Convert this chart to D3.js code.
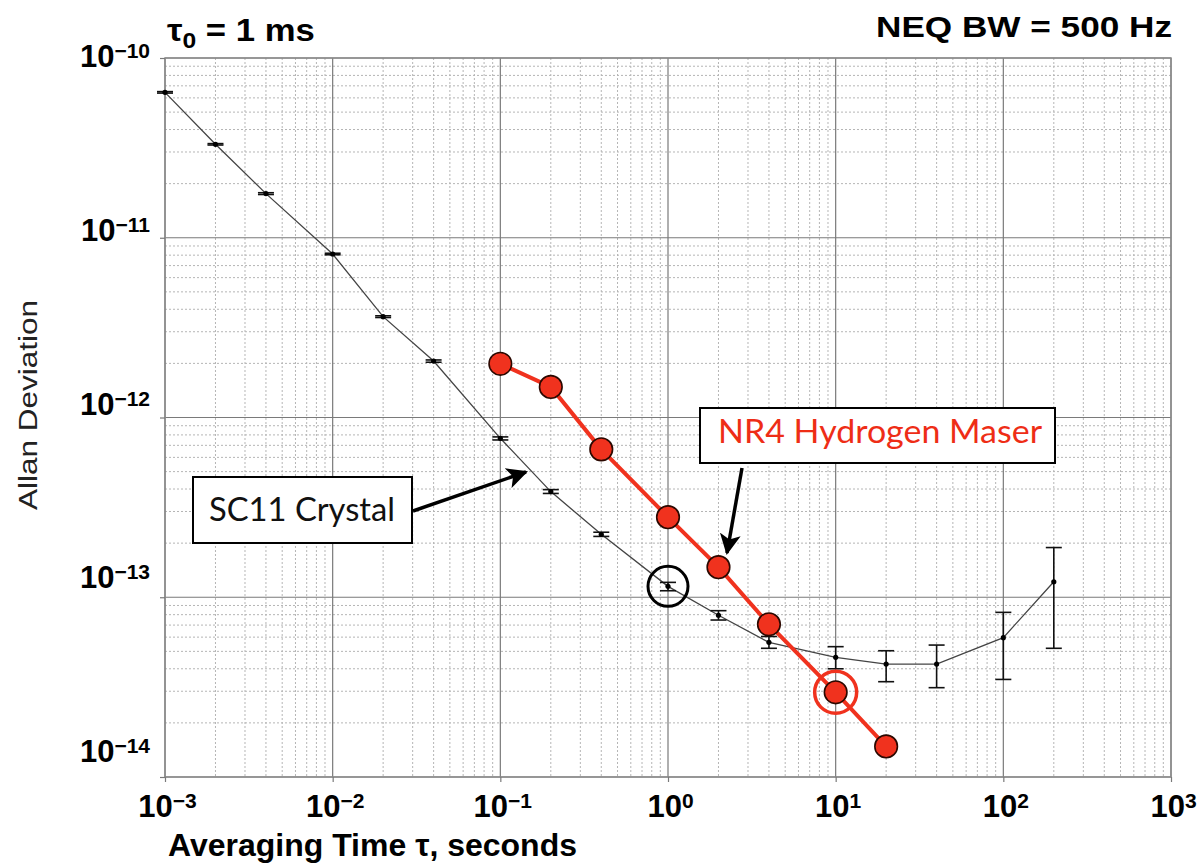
<!DOCTYPE html>
<html><head><meta charset="utf-8">
<script src="https://cdn.jsdelivr.net/npm/d3@7"></script>
<style>
html,body{margin:0;padding:0;background:#fff;}
svg{display:block;}
</style></head>
<body>
<script>
// ---------- data ----------
const xTickExps = [-3,-2,-1,0,1,2,3];
const yTickExps = [-10,-11,-12,-13,-14];

const tauCrystal  = [0.001,0.002,0.004,0.01,0.02,0.04,0.1,0.2,0.4,1,2,4,10,20,40,100,200];
const adevCrystal = [6.44e-11,3.31e-11,1.76e-11,8.12e-12,3.64e-12,2.06e-12,7.66e-13,3.87e-13,2.24e-13,1.15e-13,7.94e-14,5.61e-14,4.63e-14,4.25e-14,4.25e-14,5.96e-14,1.22e-13];
const errLoCrystal = [6.38e-11,3.28e-11,1.74e-11,8.04e-12,3.60e-12,2.03e-12,7.50e-13,3.78e-13,2.18e-13,1.087e-13,7.47e-14,5.20e-14,4.00e-14,3.39e-14,3.14e-14,3.49e-14,5.20e-14];
const errHiCrystal = [6.50e-11,3.34e-11,1.78e-11,8.20e-12,3.68e-12,2.09e-12,7.80e-13,3.97e-13,2.30e-13,1.21e-13,8.42e-14,6.05e-14,5.31e-14,5.04e-14,5.42e-14,8.24e-14,1.89e-13];

const tauMaser  = [0.1,0.2,0.4,1,2,4,10,20];
const adevMaser = [1.99e-12,1.48e-12,6.65e-13,2.79e-13,1.47e-13,7.07e-14,2.96e-14,1.48e-14];

const crystalLabel = "SC11 Crystal";
const maserLabel = "NR4 Hydrogen Maser";

// ---------- setup ----------
const W = 1203, H = 868;
const RED = "#f0321e";
const svg = d3.select("body").append("svg").attr("width", W).attr("height", H)
  .style("font-family", "'Liberation Sans', Arial, sans-serif");

const x = d3.scaleLog().domain([1e-3, 1e3]).range([165, 1171]);
const y = d3.scaleLog().domain([1e-10, 1e-14]).range([58, 777]);
// label placement scale (tick labels in the original drift slightly from gridlines)
const yLab = d3.scaleLog().domain([1e-10, 1e-14]).range([67, 762]);

// ---------- grid ----------
const minorX = [], minorY = [];
for (let e = -3; e < 3; e++) for (let k = 2; k <= 9; k++) minorX.push(k * Math.pow(10, e));
for (let e = -14; e < -10; e++) for (let k = 2; k <= 9; k++) minorY.push(k * Math.pow(10, e));

const grid = svg.append("g");
grid.selectAll(".mx").data(minorX).join("line")
  .attr("x1", d => x(d)).attr("x2", d => x(d)).attr("y1", y.range()[0]).attr("y2", y.range()[1])
  .attr("stroke", "#b5b5b5").attr("stroke-width", 1).attr("stroke-dasharray", "2,2");
grid.selectAll(".my").data(minorY).join("line")
  .attr("y1", d => y(d)).attr("y2", d => y(d)).attr("x1", x.range()[0]).attr("x2", x.range()[1])
  .attr("stroke", "#b5b5b5").attr("stroke-width", 1).attr("stroke-dasharray", "2,2");
grid.selectAll(".Mx").data(xTickExps).join("line")
  .attr("x1", d => x(Math.pow(10, d))).attr("x2", d => x(Math.pow(10, d)))
  .attr("y1", y.range()[0]).attr("y2", y.range()[1])
  .attr("stroke", "#7a7a7a").attr("stroke-width", 1.2);
grid.selectAll(".My").data(yTickExps).join("line")
  .attr("y1", d => y(Math.pow(10, d))).attr("y2", d => y(Math.pow(10, d)))
  .attr("x1", x.range()[0]).attr("x2", x.range()[1])
  .attr("stroke", "#7a7a7a").attr("stroke-width", 1.2);

svg.append("rect").attr("x", x.range()[0]).attr("y", y.range()[0])
  .attr("width", x.range()[1] - x.range()[0]).attr("height", y.range()[1] - y.range()[0])
  .attr("fill", "none").attr("stroke", "#8a8a8a").attr("stroke-width", 1.5);

// ---------- axes ----------
const xAxis = d3.axisBottom(x).tickValues(xTickExps.map(e => Math.pow(10, e)))
  .tickSize(5).tickFormat(() => "");
const gx = svg.append("g").attr("transform", `translate(0,${y.range()[1]})`).call(xAxis);
gx.select(".domain").remove();
gx.selectAll(".tick line").attr("stroke", "#7a7a7a").attr("stroke-width", 1.2);
gx.selectAll(".tick").each(function(d) {
  const e = Math.round(Math.log10(d));
  const t = d3.select(this).append("text").attr("x", 2).attr("y", 40)
    .attr("text-anchor", "middle").attr("fill", "#000")
    .style("font-weight", "bold").style("font-size", "31px");
  t.append("tspan").text("10");
  t.append("tspan").attr("dy", -9).style("font-size", "21px")
    .text(e < 0 ? "\u2212" + Math.abs(e) : String(e));
});

const yAxis = d3.axisLeft(y).tickValues(yTickExps.map(e => Math.pow(10, e)))
  .tickSize(5).tickFormat(() => "");
const gy = svg.append("g").attr("transform", `translate(${x.range()[0]},0)`).call(yAxis);
gy.select(".domain").remove();
gy.selectAll(".tick line").attr("stroke", "#7a7a7a").attr("stroke-width", 1.2);

svg.append("g").selectAll("text").data(yTickExps).join("text")
  .attr("x", 150).attr("y", d => yLab(Math.pow(10, d)))
  .attr("text-anchor", "end").attr("fill", "#000")
  .style("font-weight", "bold").style("font-size", "31px")
  .each(function(d) {
    const t = d3.select(this);
    t.append("tspan").text("10");
    t.append("tspan").attr("dy", -9).style("font-size", "21px").text("\u2212" + Math.abs(d));
  });

// axis titles
svg.append("text").attr("x", 168).attr("y", 856)
  .attr("textLength", 409).attr("lengthAdjust", "spacingAndGlyphs")
  .style("font-weight", "bold").style("font-size", "31px").attr("fill", "#000")
  .text("Averaging Time \u03c4, seconds");

svg.append("text").attr("transform", "translate(37,405) rotate(-90)")
  .attr("text-anchor", "middle")
  .attr("textLength", 210).attr("lengthAdjust", "spacingAndGlyphs")
  .style("font-size", "26px").attr("fill", "#222")
  .text("Allan Deviation");

// header texts
const tt = svg.append("text").attr("x", 167).attr("y", 41)
  .style("font-weight", "bold").style("font-size", "31px").attr("fill", "#000");
tt.append("tspan").text("\u03c4");
tt.append("tspan").attr("dy", 7).style("font-size", "22px").text("0");
tt.append("tspan").attr("dy", -7).text(" = 1 ms");
// stretch header to the reference width
{
  const bb = tt.node().getBBox();
  const sx = 148 / bb.width;
  tt.attr("transform", `translate(${167 - 167 * sx},0) scale(${sx},1)`);
}

svg.append("text").attr("x", 1172).attr("y", 37).attr("text-anchor", "end")
  .attr("textLength", 296).attr("lengthAdjust", "spacingAndGlyphs")
  .style("font-weight", "bold").style("font-size", "30px").attr("fill", "#000")
  .text("NEQ BW = 500 Hz");

// ---------- crystal series ----------
const crystal = tauCrystal.map((t, i) => ({t, v: adevCrystal[i], lo: errLoCrystal[i], hi: errHiCrystal[i]}));
const maser = tauMaser.map((t, i) => ({t, v: adevMaser[i]}));

const line = d3.line().x(d => x(d.t)).y(d => y(d.v));

svg.append("path").datum(crystal).attr("d", line)
  .attr("fill", "none").attr("stroke", "#444").attr("stroke-width", 1.3);

const eb = svg.append("g").attr("stroke", "#111").attr("stroke-width", 1.6);
eb.selectAll(".v").data(crystal).join("line")
  .attr("x1", d => x(d.t)).attr("x2", d => x(d.t))
  .attr("y1", d => y(d.lo)).attr("y2", d => y(d.hi));
eb.selectAll(".c1").data(crystal).join("line")
  .attr("x1", d => x(d.t) - 8).attr("x2", d => x(d.t) + 8)
  .attr("y1", d => y(d.lo)).attr("y2", d => y(d.lo));
eb.selectAll(".c2").data(crystal).join("line")
  .attr("x1", d => x(d.t) - 8).attr("x2", d => x(d.t) + 8)
  .attr("y1", d => y(d.hi)).attr("y2", d => y(d.hi));
svg.append("g").selectAll("circle").data(crystal).join("circle")
  .attr("cx", d => x(d.t)).attr("cy", d => y(d.v)).attr("r", 2.6).attr("fill", "#000");

// black highlight circle at tau = 1 s
const hlC = crystal.find(d => d.t === 1);
svg.append("circle").attr("cx", x(hlC.t)).attr("cy", y(hlC.v)).attr("r", 20)
  .attr("fill", "none").attr("stroke", "#000").attr("stroke-width", 3);

// ---------- maser series ----------
svg.append("path").datum(maser).attr("d", line)
  .attr("fill", "none").attr("stroke", RED).attr("stroke-width", 4);
svg.append("g").selectAll("circle").data(maser).join("circle")
  .attr("cx", d => x(d.t)).attr("cy", d => y(d.v)).attr("r", 11.3)
  .attr("fill", RED).attr("stroke", "#2a0800").attr("stroke-width", 1.6);

const hlM = maser.find(d => d.t === 10);
svg.append("circle").attr("cx", x(hlM.t)).attr("cy", y(hlM.v)).attr("r", 21)
  .attr("fill", "none").attr("stroke", RED).attr("stroke-width", 3.5);

// ---------- annotations ----------
const defs = svg.append("defs");
defs.append("marker").attr("id", "ah").attr("viewBox", "0 0 10 10")
  .attr("refX", 9).attr("refY", 5).attr("markerWidth", 6).attr("markerHeight", 6)
  .attr("markerUnits", "strokeWidth").attr("orient", "auto")
  .append("path").attr("d", "M0,0 L10,5 L0,10 L2.5,5 Z").attr("fill", "#000");

svg.append("line").attr("x1", 413).attr("y1", 511).attr("x2", 526).attr("y2", 472)
  .attr("stroke", "#000").attr("stroke-width", 3.5).attr("marker-end", "url(#ah)");
svg.append("line").attr("x1", 742).attr("y1", 468).attr("x2", 727).attr("y2", 553)
  .attr("stroke", "#000").attr("stroke-width", 3.5).attr("marker-end", "url(#ah)");

svg.append("rect").attr("x", 193).attr("y", 477).attr("width", 219).attr("height", 66)
  .attr("fill", "#fff").attr("stroke", "#000").attr("stroke-width", 2);
svg.append("text").attr("x", 209).attr("y", 521)
  .attr("textLength", 186).attr("lengthAdjust", "spacingAndGlyphs")
  .style("font-family", "Lato, 'Open Sans', sans-serif").style("font-size", "32px")
  .attr("fill", "#111").text(crystalLabel);

svg.append("rect").attr("x", 700).attr("y", 408).attr("width", 355).attr("height", 55)
  .attr("fill", "#fff").attr("stroke", "#000").attr("stroke-width", 2);
svg.append("text").attr("x", 718).attr("y", 443)
  .attr("textLength", 324).attr("lengthAdjust", "spacingAndGlyphs")
  .style("font-family", "Lato, 'Open Sans', sans-serif").style("font-size", "32px")
  .attr("fill", "#ee2d16").text(maserLabel);
</script>
</body></html>
